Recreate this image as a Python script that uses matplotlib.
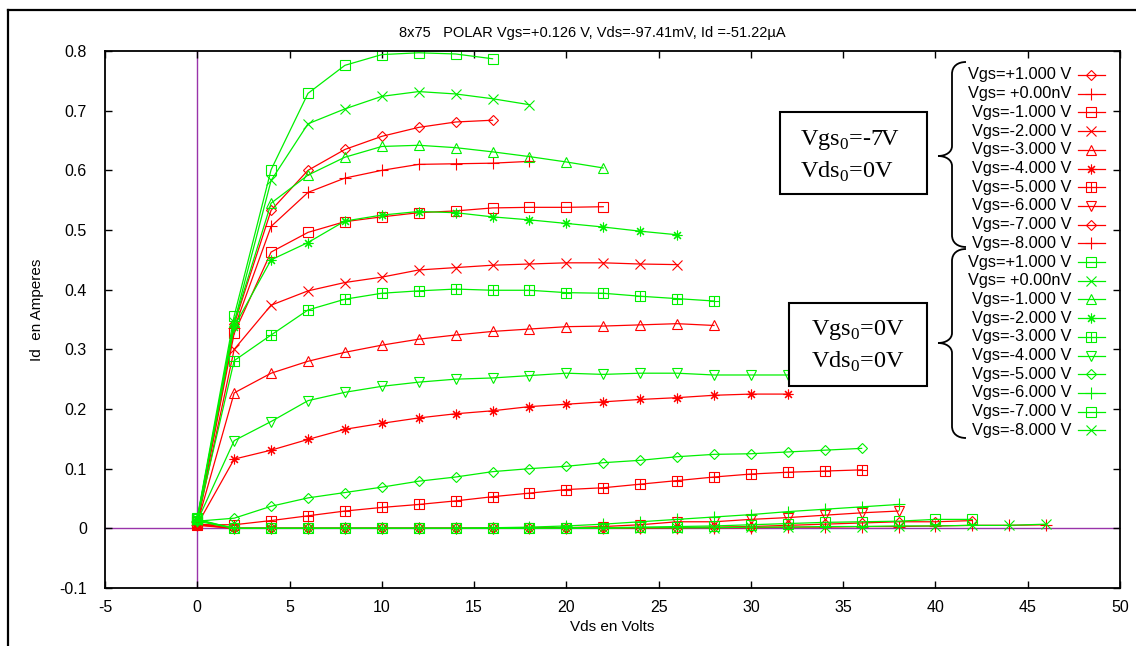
import numpy as np
import matplotlib
matplotlib.use("Agg")
import matplotlib.pyplot as plt
from matplotlib.path import Path
from matplotlib.patches import PathPatch, Rectangle
from matplotlib.lines import Line2D

plt.rcParams['font.family'] = ['Liberation Sans', 'DejaVu Sans']
plt.rcParams['mathtext.fontset'] = 'custom'
plt.rcParams['mathtext.rm'] = 'Liberation Serif'
plt.rcParams['axes.unicode_minus'] = False

W, H = 1136, 646

# measurement grid (Vds, volts)
vds_steps = [0, 2, 4, 6, 8, 10, 12, 14, 16, 18, 20, 22, 24, 26,
             28, 30, 32, 34, 36, 38, 40, 42, 44, 46]

vgs_labels = ["Vgs=+1.000 V", "Vgs= +0.00nV", "Vgs=-1.000 V", "Vgs=-2.000 V",
              "Vgs=-3.000 V", "Vgs=-4.000 V", "Vgs=-5.000 V", "Vgs=-6.000 V",
              "Vgs=-7.000 V", "Vgs=-8.000 V"]

# Vgs0 = -7 V (red), Id in A
red_id = [
    [0.012, 0.342, 0.533, 0.600, 0.635, 0.657, 0.672, 0.681, 0.684],
    [0.010, 0.335, 0.506, 0.563, 0.587, 0.600, 0.610, 0.611, 0.612, 0.615],
    [0.010, 0.327, 0.463, 0.496, 0.514, 0.522, 0.529, 0.532, 0.537, 0.538, 0.538, 0.539],
    [0.008, 0.300, 0.374, 0.398, 0.412, 0.421, 0.433, 0.437, 0.441, 0.443, 0.445, 0.445,
     0.443, 0.442],
    [0.008, 0.227, 0.260, 0.280, 0.295, 0.307, 0.317, 0.324, 0.330, 0.334, 0.338, 0.339,
     0.341, 0.343, 0.340],
    [0.006, 0.116, 0.131, 0.149, 0.166, 0.176, 0.185, 0.192, 0.197, 0.204, 0.208, 0.212,
     0.216, 0.219, 0.223, 0.225, 0.225],
    [0.006, 0.006, 0.013, 0.021, 0.029, 0.035, 0.040, 0.046, 0.053, 0.059, 0.065, 0.068,
     0.074, 0.080, 0.086, 0.091, 0.094, 0.096, 0.098],
    [0.005, 0.000, 0.000, 0.000, 0.000, 0.000, 0.000, 0.000, 0.000, 0.001, 0.001, 0.003,
     0.006, 0.011, 0.011, 0.015, 0.018, 0.022, 0.026, 0.029],
    [0.008, 0.000, 0.000, 0.000, 0.000, 0.000, 0.000, 0.000, 0.000, 0.000, 0.000, 0.000,
     0.001, 0.001, 0.002, 0.003, 0.005, 0.007, 0.009, 0.011, 0.011, 0.013],
    [0.006, 0.000, 0.000, 0.000, 0.000, 0.000, 0.000, 0.000, 0.000, 0.000, 0.000, 0.000,
     0.000, 0.001, 0.001, 0.001, 0.002, 0.002, 0.003, 0.003, 0.004, 0.005, 0.005, 0.006],
]

# Vgs0 = 0 V (green)
green_id = [
    [0.018, 0.356, 0.601, 0.729, 0.776, 0.794, 0.797, 0.795, 0.787],
    [0.016, 0.345, 0.583, 0.678, 0.703, 0.724, 0.732, 0.728, 0.720, 0.710],
    [0.016, 0.345, 0.545, 0.592, 0.622, 0.640, 0.642, 0.638, 0.631, 0.623, 0.614, 0.604],
    [0.015, 0.338, 0.450, 0.479, 0.515, 0.525, 0.531, 0.529, 0.522, 0.517, 0.511, 0.505,
     0.498, 0.492],
    [0.015, 0.281, 0.324, 0.366, 0.384, 0.394, 0.398, 0.401, 0.399, 0.399, 0.395, 0.394,
     0.389, 0.385, 0.381],
    [0.012, 0.147, 0.179, 0.214, 0.228, 0.238, 0.245, 0.250, 0.252, 0.256, 0.260, 0.258,
     0.260, 0.260, 0.257, 0.257, 0.257],
    [0.012, 0.017, 0.037, 0.051, 0.060, 0.069, 0.079, 0.086, 0.095, 0.100, 0.104, 0.110,
     0.114, 0.120, 0.124, 0.125, 0.128, 0.131, 0.134],
    [0.012, 0.000, 0.000, 0.000, 0.000, 0.000, 0.000, 0.000, 0.001, 0.002, 0.004, 0.007,
     0.011, 0.015, 0.019, 0.023, 0.028, 0.032, 0.036, 0.040],
    [0.015, 0.000, 0.000, 0.000, 0.000, 0.000, 0.000, 0.000, 0.000, 0.000, 0.001, 0.001,
     0.002, 0.003, 0.004, 0.006, 0.008, 0.010, 0.011, 0.012, 0.015, 0.015],
    [0.014, 0.000, 0.000, 0.000, 0.000, 0.000, 0.000, 0.000, 0.000, 0.000, 0.000, 0.000,
     0.001, 0.001, 0.001, 0.002, 0.002, 0.003, 0.003, 0.004, 0.004, 0.005, 0.005, 0.007],
]

# square with a cross inside (gnuplot boxed plus)
boxplus = Path([(-1, -1), (1, -1), (1, 1), (-1, 1), (-1, -1), (0, -1), (0, 1), (-1, 0), (1, 0)],
               [Path.MOVETO, Path.LINETO, Path.LINETO, Path.LINETO, Path.CLOSEPOLY,
                Path.MOVETO, Path.LINETO, Path.MOVETO, Path.LINETO])
star = (8, 2, 0)
msize = {'D': 5, '+': 8, 's': 6.5, 'x': 7.5, '^': 7, 'v': 7}

red_markers = ['D', '+', 's', 'x', '^', star, boxplus, 'v', 'D', '+']
green_markers = ['s', 'x', '^', star, boxplus, 'v', 'D', '+', 's', 'x']
RED, GREEN, PURPLE = '#ff0000', '#00f000', '#9933aa'


def ms_of(m):
    return msize.get(m, 7) if isinstance(m, str) else 7


def fx(x, y):
    return x / W, 1 - y / H


fig = plt.figure(figsize=(W / 100, H / 100), dpi=100)
ax = fig.add_axes([105 / W, 1 - 588 / H, (1120 - 105) / W, (588 - 51) / H])

ax.axhline(0, color=PURPLE, lw=1, zorder=1)
ax.axvline(0, color=PURPLE, lw=1, zorder=1)

for ids, marks, col in [(red_id, red_markers, RED), (green_id, green_markers, GREEN)]:
    for y, m in zip(ids, marks):
        ax.plot(vds_steps[:len(y)], y, color=col, lw=0.9, marker=m, ms=ms_of(m),
                mfc='none', mec=col, mew=0.8, zorder=2)

ax.set_xlim(-5, 50)
ax.set_ylim(-0.1, 0.8)
ax.set_xticks(range(-5, 51, 5))
yt = [-0.1, 0, 0.1, 0.2, 0.3, 0.4, 0.5, 0.6, 0.7, 0.8]
ax.set_yticks(yt)
ax.set_yticklabels(['-0.1', '0', '0.1', '0.2', '0.3', '0.4', '0.5', '0.6', '0.7', '0.8'])
ax.tick_params(direction='in', top=True, right=True, length=5, width=1,
               labelsize=11.5)
ax.tick_params(axis='y', pad=13)
ax.tick_params(axis='x', pad=9)
for s in ax.spines.values():
    s.set_linewidth(1.3)

fig.text(*fx(37, 310), "Id  en Amperes", rotation=90, ha='center', va='center', fontsize=11)
fig.text(*fx(612, 627), "Vds en Volts", ha='center', va='center', fontsize=11)
fig.text(*fx(592, 33), "8x75   POLAR Vgs=+0.126 V, Vds=-97.41mV, Id =-51.22\u00b5A",
         ha='center', va='center', fontsize=10.5)

# legend drawn by hand (right aligned labels, sample on the right)
all_marks = [(m, RED) for m in red_markers] + [(m, GREEN) for m in green_markers]
all_labels = vgs_labels + vgs_labels
for k, ((m, col), lab) in enumerate(zip(all_marks, all_labels)):
    yy = 75 + 18.7 * k
    fig.text(*fx(1071, yy), lab, ha='right', va='center', fontsize=11.8)
    fig.add_artist(Line2D([1078 / W, 1105 / W], [1 - yy / H] * 2, color=col, lw=0.9))
    fig.add_artist(Line2D([1091 / W], [1 - yy / H], marker=m, ms=ms_of(m), mfc='none',
                          mec=col, mew=0.8, color=col))


def brace(y0, ym, y1, xt=938, xv=952, xe=966):
    pts = [(xe, y0), (958, y0), (xv, y0 + 4), (xv, y0 + 12),
           (xv, ym - 10),
           (xv, ym - 4), (946, ym), (xt, ym),
           (946, ym), (xv, ym + 4), (xv, ym + 10),
           (xv, y1 - 12),
           (xv, y1 - 4), (958, y1), (xe, y1)]
    codes = [Path.MOVETO, Path.CURVE4, Path.CURVE4, Path.CURVE4,
             Path.LINETO,
             Path.CURVE4, Path.CURVE4, Path.CURVE4,
             Path.CURVE4, Path.CURVE4, Path.CURVE4,
             Path.LINETO,
             Path.CURVE4, Path.CURVE4, Path.CURVE4]
    p = Path([fx(*q) for q in pts], codes)
    fig.add_artist(PathPatch(p, transform=fig.transFigure, fc='none', ec='black', lw=1.3))


brace(62, 156, 247)
brace(249, 343, 438)

# annotation boxes
for (x0, y0, x1, y1), (tx, ty1, ty2), lines in [
        ((780, 112, 927, 194), (800, 140, 172), ("Vgs$_0$=-7V", "Vds$_0$=0V")),
        ((789, 303, 927, 386), (811, 330, 362), ("Vgs$_0$=0V", "Vds$_0$=0V"))]:
    fig.add_artist(Rectangle(fx(x0, y1), (x1 - x0) / W, (y1 - y0) / H,
                             transform=fig.transFigure, fc='white', ec='black', lw=1.5,
                             zorder=3))
    for ty, s in zip((ty1, ty2), lines):
        fig.text(*fx(tx, ty), s, ha='left', va='center', fontsize=17.5,
                 family='Liberation Serif', zorder=4)

# outer frame (only top and left edges are in view)
fig.add_artist(Line2D([8 / W, 8 / W], [1 - 10 / H, 0], color='black', lw=1.6))
fig.add_artist(Line2D([8 / W, 1], [1 - 10 / H, 1 - 10 / H], color='black', lw=1.6))

fig.savefig("out.png", dpi=100)
